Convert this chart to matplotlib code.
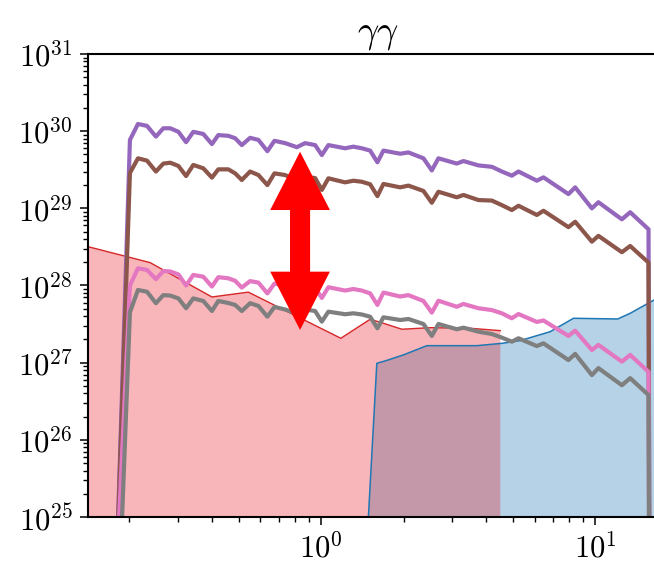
import matplotlib
matplotlib.use("Agg")
import matplotlib.pyplot as plt
import numpy as np
from matplotlib import ticker
from matplotlib.patches import FancyArrowPatch

# photon energy grid shared by the four model curves
energy = [0.179, 0.201, 0.215, 0.232, 0.250, 0.266, 0.282, 0.302, 0.322, 0.342,
          0.372, 0.400, 0.422, 0.459, 0.486, 0.514, 0.551, 0.591, 0.637, 0.676,
          0.739, 0.816, 0.874, 0.951, 1.006, 1.063, 1.223, 1.311, 1.407, 1.509,
          1.604, 1.687, 1.941, 2.081, 2.360, 2.532, 2.677, 3.124, 3.302, 3.746,
          4.192, 4.558, 4.957, 5.240, 6.114, 6.463, 7.971, 8.433, 9.703, 10.25,
          12.48, 13.38, 15.61, 15.83]

purple = [1.5e24, 7.7e29, 1.24e30, 1.17e30, 8.5e29, 1.09e30, 1.09e30, 9.8e29, 7.2e29, 9.8e29,
          9.2e29, 6.8e29, 8.9e29, 8.7e29, 8.1e29, 6.6e29, 8.2e29, 7.7e29, 5.5e29, 7.5e29,
          7.0e29, 6.2e29, 7.0e29, 6.6e29, 4.9e29, 6.6e29, 6.0e29, 6.3e29, 6.0e29, 5.6e29,
          3.95e29, 5.6e29, 5.1e29, 5.3e29, 4.45e29, 3.1e29, 4.45e29, 3.8e29, 4.1e29, 3.6e29,
          3.45e29, 3.0e29, 2.65e29, 3.0e29, 2.28e29, 2.52e29, 1.53e29, 1.87e29, 1.0e29, 1.2e29,
          7.2e28, 8.9e28, 5.35e28, 1e20]

brown = [1.5e24, 2.87e29, 4.45e29, 4.15e29, 3.0e29, 3.8e29, 3.9e29, 3.54e29, 2.62e29, 3.65e29,
         3.3e29, 2.5e29, 3.2e29, 3.2e29, 2.84e29, 2.33e29, 3.0e29, 2.7e29, 2.0e29, 2.84e29,
         2.7e29, 2.33e29, 2.55e29, 2.47e29, 1.73e29, 2.45e29, 2.17e29, 2.28e29, 2.21e29, 2.05e29,
         1.44e29, 2.07e29, 1.87e29, 1.97e29, 1.68e29, 1.18e29, 1.64e29, 1.39e29, 1.49e29, 1.28e29,
         1.26e29, 1.1e29, 9.5e28, 1.08e29, 8.2e28, 9.3e28, 5.7e28, 6.7e28, 3.7e28, 4.4e28,
         2.7e28, 3.25e28, 1.98e28, 1e20]

pink = [1.5e24, 1.0e28, 1.67e28, 1.59e28, 1.21e28, 1.54e28, 1.52e28, 1.39e28, 1.0e28, 1.37e28,
        1.3e28, 9.7e27, 1.28e28, 1.24e28, 1.15e28, 9.4e27, 1.14e28, 1.09e28, 7.9e27, 1.06e28,
        9.9e27, 8.75e27, 9.9e27, 9.3e27, 6.9e27, 9.5e27, 8.6e27, 9.0e27, 8.6e27, 7.9e27,
        5.6e27, 8.1e27, 7.2e27, 7.5e27, 6.3e27, 4.45e27, 6.35e27, 5.3e27, 5.76e27, 5.07e27,
        4.8e27, 4.36e27, 3.76e27, 4.27e27, 3.37e27, 3.52e27, 2.22e27, 2.6e27, 1.46e27, 1.7e27,
        1.03e27, 1.26e27, 7.6e26, 1e20]

gray = [9.5e22, 4.5e27, 8.75e27, 8.3e27, 5.9e27, 7.5e27, 7.4e27, 6.8e27, 5.07e27, 6.8e27,
        6.3e27, 4.67e27, 6.3e27, 5.93e27, 5.6e27, 4.67e27, 5.9e27, 5.43e27, 3.94e27, 5.27e27,
        4.89e27, 4.34e27, 4.89e27, 4.67e27, 3.4e27, 4.58e27, 4.24e27, 4.36e27, 4.21e27, 3.94e27,
        2.79e27, 3.87e27, 3.57e27, 3.68e27, 3.17e27, 2.22e27, 3.17e27, 2.71e27, 2.84e27, 2.52e27,
        2.35e27, 2.11e27, 1.87e27, 2.07e27, 1.64e27, 1.78e27, 1.08e27, 1.3e27, 6.9e26, 8.5e26,
        5.1e26, 6.3e26, 3.8e26, 1e20]

# shaded bands
red_x = [0.12, 0.238, 0.400, 0.543, 1.18, 1.509, 1.687, 1.969, 2.497, 3.494, 4.5]
red_y = [3.7e28, 1.98e28, 7.1e27, 8.2e27, 2.07e27, 3.65e27, 3.24e27, 2.71e27, 2.84e27, 2.79e27, 2.6e27]

blue_x = [1.459, 1.596, 1.736, 1.995, 2.428, 3.695, 4.558, 5.315, 6.838, 8.316, 12.05, 13.38, 16.37, 20.0]
blue_y = [2.9e24, 9.8e26, 1.07e27, 1.26e27, 1.66e27, 1.66e27, 1.78e27, 1.93e27, 2.52e27, 3.76e27,
          3.68e27, 4.36e27, 6.5e27, 9.6e27]

# double arrow between the two curve groups
arrow_x = 0.838
arrow_top = 5.42e29
arrow_bottom = 2.65e27


def draw(ax):
    floor = 1e20
    ax.fill_between(blue_x, blue_y, floor, color="tab:blue", alpha=0.33, lw=0, zorder=1)
    ax.plot(blue_x, blue_y, color="tab:blue", lw=1.1, zorder=1.2)
    ax.fill_between(red_x, red_y, floor, color="#e8101e", alpha=0.3, lw=0, zorder=1.1)
    ax.plot(red_x, red_y, color="#d62728", lw=1.0, zorder=1.2)

    for series, color in ((purple, "tab:purple"), (brown, "tab:brown"),
                          (pink, "tab:pink"), (gray, "tab:gray")):
        ax.plot(energy, series, color=color, lw=3, zorder=2)

    # two single-headed arrows whose shafts overlap, giving one double arrow
    style = "simple,head_length=42,head_width=43,tail_width=14.4"
    for start, end in ((arrow_bottom * 3, arrow_top), (arrow_top / 3, arrow_bottom)):
        ax.add_patch(FancyArrowPatch((arrow_x, start), (arrow_x, end), arrowstyle=style,
                                     mutation_scale=1, color="red", lw=0,
                                     shrinkA=0, shrinkB=0, zorder=3))

    ax.set_xscale("log")
    ax.set_yscale("log")
    ax.set_xlim(0.1414, 18.4)
    ax.set_ylim(1e25, 1e31)
    ax.set_xticks([1, 10])

    fmt = ticker.FuncFormatter(lambda v, p: r"$10^{%d}$" % round(np.log10(v)))
    ax.xaxis.set_major_formatter(fmt)
    ax.yaxis.set_major_formatter(fmt)
    ax.xaxis.set_minor_formatter(ticker.NullFormatter())
    ax.yaxis.set_minor_formatter(ticker.NullFormatter())
    ax.tick_params(which="major", direction="out", length=6, width=1.1, labelsize=22, pad=5)
    ax.tick_params(which="minor", direction="out", length=3.5, width=1.0)
    for spine in ax.spines.values():
        spine.set_linewidth(1.5)
    ax.set_title(r"$\gamma\gamma$", fontsize=27, pad=9)


def main():
    plt.rcParams["mathtext.fontset"] = "cm"
    fig = plt.figure(figsize=(6.54, 5.66), dpi=100)
    ax = fig.add_axes([0.1346, 0.0866, 0.887, 0.818])
    draw(ax)
    fig.savefig("out.png", dpi=100)


if __name__ == "__main__":
    main()
